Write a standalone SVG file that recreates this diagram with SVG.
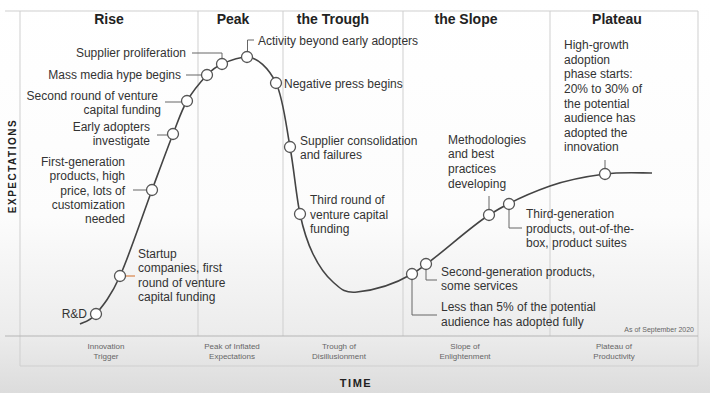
<svg xmlns="http://www.w3.org/2000/svg" width="710" height="393" viewBox="0 0 710 393">
<defs>
<linearGradient id="bg" x1="0" y1="0" x2="0" y2="1">
<stop offset="0" stop-color="#ffffff"/>
<stop offset="0.55" stop-color="#fcfcfc"/>
<stop offset="0.85" stop-color="#ececec"/>
<stop offset="1" stop-color="#dcdcdc"/>
</linearGradient>
</defs>
<style>
.t{font-family:"Liberation Sans",Arial,sans-serif;font-size:12px;fill:#333}
.e{text-anchor:end}
.h{font-family:"Liberation Sans",Arial,sans-serif;font-size:14px;font-weight:bold;fill:#222;text-anchor:middle}
.s{font-family:"Liberation Sans",Arial,sans-serif;font-size:8px;fill:#666;text-anchor:middle}
.ax{font-family:"Liberation Sans",Arial,sans-serif;font-size:10px;font-weight:bold;fill:#222;text-anchor:middle;letter-spacing:1.5px}
.dot{fill:#fff;stroke:#555;stroke-width:1.3}
.lead{fill:none;stroke:#666;stroke-width:1}
.grid{stroke:#cfcfcf;stroke-width:1;fill:none}
</style>
<rect x="0" y="0" width="710" height="393" fill="url(#bg)"/>
<g id="frame">
<line class="grid" x1="5" y1="11" x2="698" y2="11"/>
<line class="grid" x1="20" y1="11" x2="20" y2="366"/>
<line class="grid" x1="698" y1="11" x2="698" y2="366"/>
<line class="grid" x1="198" y1="11" x2="198" y2="336"/>
<line class="grid" x1="283" y1="11" x2="283" y2="336"/>
<line class="grid" x1="403" y1="11" x2="403" y2="336"/>
<line class="grid" x1="550" y1="11" x2="550" y2="336"/>
<line x1="5" y1="336" x2="698" y2="336" stroke="#b5b5b5" stroke-width="1.2"/>
<line class="grid" x1="20" y1="366" x2="698" y2="366"/>
</g>
<g id="headings">
<text class="h" x="109" y="24">Rise</text>
<text class="h" x="233" y="24">Peak</text>
<text class="h" x="333" y="24">the Trough</text>
<text class="h" x="466" y="24">the Slope</text>
<text class="h" x="617" y="24">Plateau</text>
</g>
<g id="phases">
<text class="s" x="106" y="349">Innovation</text><text class="s" x="106" y="359">Trigger</text>
<text class="s" x="232" y="349">Peak of Inflated</text><text class="s" x="232" y="359">Expectations</text>
<text class="s" x="339" y="349">Trough of</text><text class="s" x="339" y="359">Disillusionment</text>
<text class="s" x="465" y="349">Slope of</text><text class="s" x="465" y="359">Enlightenment</text>
<text class="s" x="614" y="349">Plateau of</text><text class="s" x="614" y="359">Productivity</text>
<text class="s" x="694" y="332" style="text-anchor:end;font-size:7px">As of September 2020</text>
</g>
<g id="axes">
<text class="ax" transform="translate(16,166) rotate(-90)">EXPECTATIONS</text>
<text class="ax" x="356" y="387" style="font-size:11px">TIME</text>
</g>
<g id="connectors">
<path id="curve" fill="none" stroke="#444" stroke-width="1.6" d="M80,324 C82.7,322.3 89.3,322 96,314 C102.7,306 110.7,296.7 120,276 C129.3,255.3 143.2,213.7 152,190 C160.8,166.3 167.2,148.8 173,134 C178.8,119.2 181.3,110.8 187,101 C192.7,91.2 201.2,81.2 207,75 C212.8,68.8 215.3,67 222,64 C228.7,61 238,57 247,57 C257,57 268.8,68 276,83 C283.2,98 286,125.2 290,147 C294,168.8 296.2,196.2 300,214 C303.8,231.8 307.5,242.7 313,254 C318.5,265.3 325.7,275.7 333,282 C340.3,288.3 343.8,293.3 357,292 C370.2,290.7 390,286.8 412,274 C434,261.2 466,229.7 489,215 C512,200.3 530.7,192.8 550,186 C569.3,179.2 588,176.2 605,174 C622,171.8 644.2,173.2 652,173"/>
<polyline class="lead" points="192,53 222,53 222,58.5"/>
<line class="lead" x1="186" y1="75" x2="201.5" y2="75"/>
<line class="lead" x1="165" y1="102" x2="181.5" y2="102"/>
<line class="lead" x1="157" y1="135" x2="167.5" y2="135"/>
<line class="lead" x1="133" y1="190" x2="146.5" y2="190"/>
<line x1="125.5" y1="276" x2="135" y2="276" stroke="#d9844a" stroke-width="1.2"/>
<polyline class="lead" points="247.5,51.5 247.5,40 254,40"/>
<polyline class="lead" points="412,279.5 412,315 437,315"/>
<polyline class="lead" points="426,269.5 426,280 437,280"/>
<line class="lead" x1="489" y1="196" x2="489" y2="209.5"/>
<polyline class="lead" points="509,209.5 509,228 522,228"/>
<line class="lead" x1="605" y1="160" x2="605" y2="168.5"/>
</g>
<g id="rd"><circle class="dot" cx="96" cy="314" r="5.5"/><text class="t e" x="87" y="318">R&amp;D</text></g>
<g id="startup"><circle class="dot" cx="120" cy="276" r="5.5"/><text class="t" x="138" y="258">Startup</text><text class="t" x="138" y="272">companies, first</text><text class="t" x="138" y="287">round of venture</text><text class="t" x="138" y="301">capital funding</text></g>
<g id="firstgen"><circle class="dot" cx="152" cy="190" r="5.5"/><text class="t e" x="125" y="166">First-generation</text><text class="t e" x="125" y="180">products, high</text><text class="t e" x="125" y="195">price, lots of</text><text class="t e" x="125" y="209">customization</text><text class="t e" x="125" y="223">needed</text></g>
<g id="early"><circle class="dot" cx="173" cy="134" r="5.5"/><text class="t e" x="150" y="131">Early adopters</text><text class="t e" x="150" y="145">investigate</text></g>
<g id="second"><circle class="dot" cx="187" cy="101" r="5.5"/><text class="t e" x="158" y="100">Second round of venture</text><text class="t e" x="161" y="114">capital funding</text></g>
<g id="mass"><circle class="dot" cx="207" cy="75" r="5.5"/><text class="t e" x="181" y="79">Mass media hype begins</text></g>
<g id="prolif"><circle class="dot" cx="222" cy="64" r="5.5"/><text class="t e" x="186" y="57">Supplier proliferation</text></g>
<g id="activity"><circle class="dot" cx="247" cy="57" r="5.5"/><text class="t" x="258" y="45">Activity beyond early adopters</text></g>
<g id="negative"><circle class="dot" cx="276" cy="83" r="5.5"/><text class="t" x="284" y="88">Negative press begins</text></g>
<g id="consolidation"><circle class="dot" cx="290" cy="147" r="5.5"/><text class="t" x="300" y="145">Supplier consolidation</text><text class="t" x="300" y="159">and failures</text></g>
<g id="third"><circle class="dot" cx="300" cy="214" r="5.5"/><text class="t" x="310" y="204">Third round of</text><text class="t" x="310" y="219">venture capital</text><text class="t" x="310" y="233">funding</text></g>
<g id="less5"><circle class="dot" cx="412" cy="274" r="5.5"/><text class="t" x="441" y="311">Less than 5% of the potential</text><text class="t" x="441" y="326">audience has adopted fully</text></g>
<g id="secondgen"><circle class="dot" cx="426" cy="264" r="5.5"/><text class="t" x="441" y="276">Second-generation products,</text><text class="t" x="441" y="290">some services</text></g>
<g id="method"><circle class="dot" cx="489" cy="215" r="5.5"/><text class="t" x="448" y="144">Methodologies</text><text class="t" x="448" y="158">and best</text><text class="t" x="448" y="173">practices</text><text class="t" x="448" y="188">developing</text></g>
<g id="thirdgen"><circle class="dot" cx="509" cy="204" r="5.5"/><text class="t" x="526" y="218">Third-generation</text><text class="t" x="526" y="233">products, out-of-the-</text><text class="t" x="526" y="247">box, product suites</text></g>
<g id="highgrowth"><circle class="dot" cx="605" cy="174" r="5.5"/><text class="t" x="564" y="49">High-growth</text><text class="t" x="564" y="64">adoption</text><text class="t" x="564" y="78">phase starts:</text><text class="t" x="564" y="93">20% to 30% of</text><text class="t" x="564" y="108">the potential</text><text class="t" x="564" y="122">audience has</text><text class="t" x="564" y="137">adopted the</text><text class="t" x="564" y="151">innovation</text></g>
</svg>
